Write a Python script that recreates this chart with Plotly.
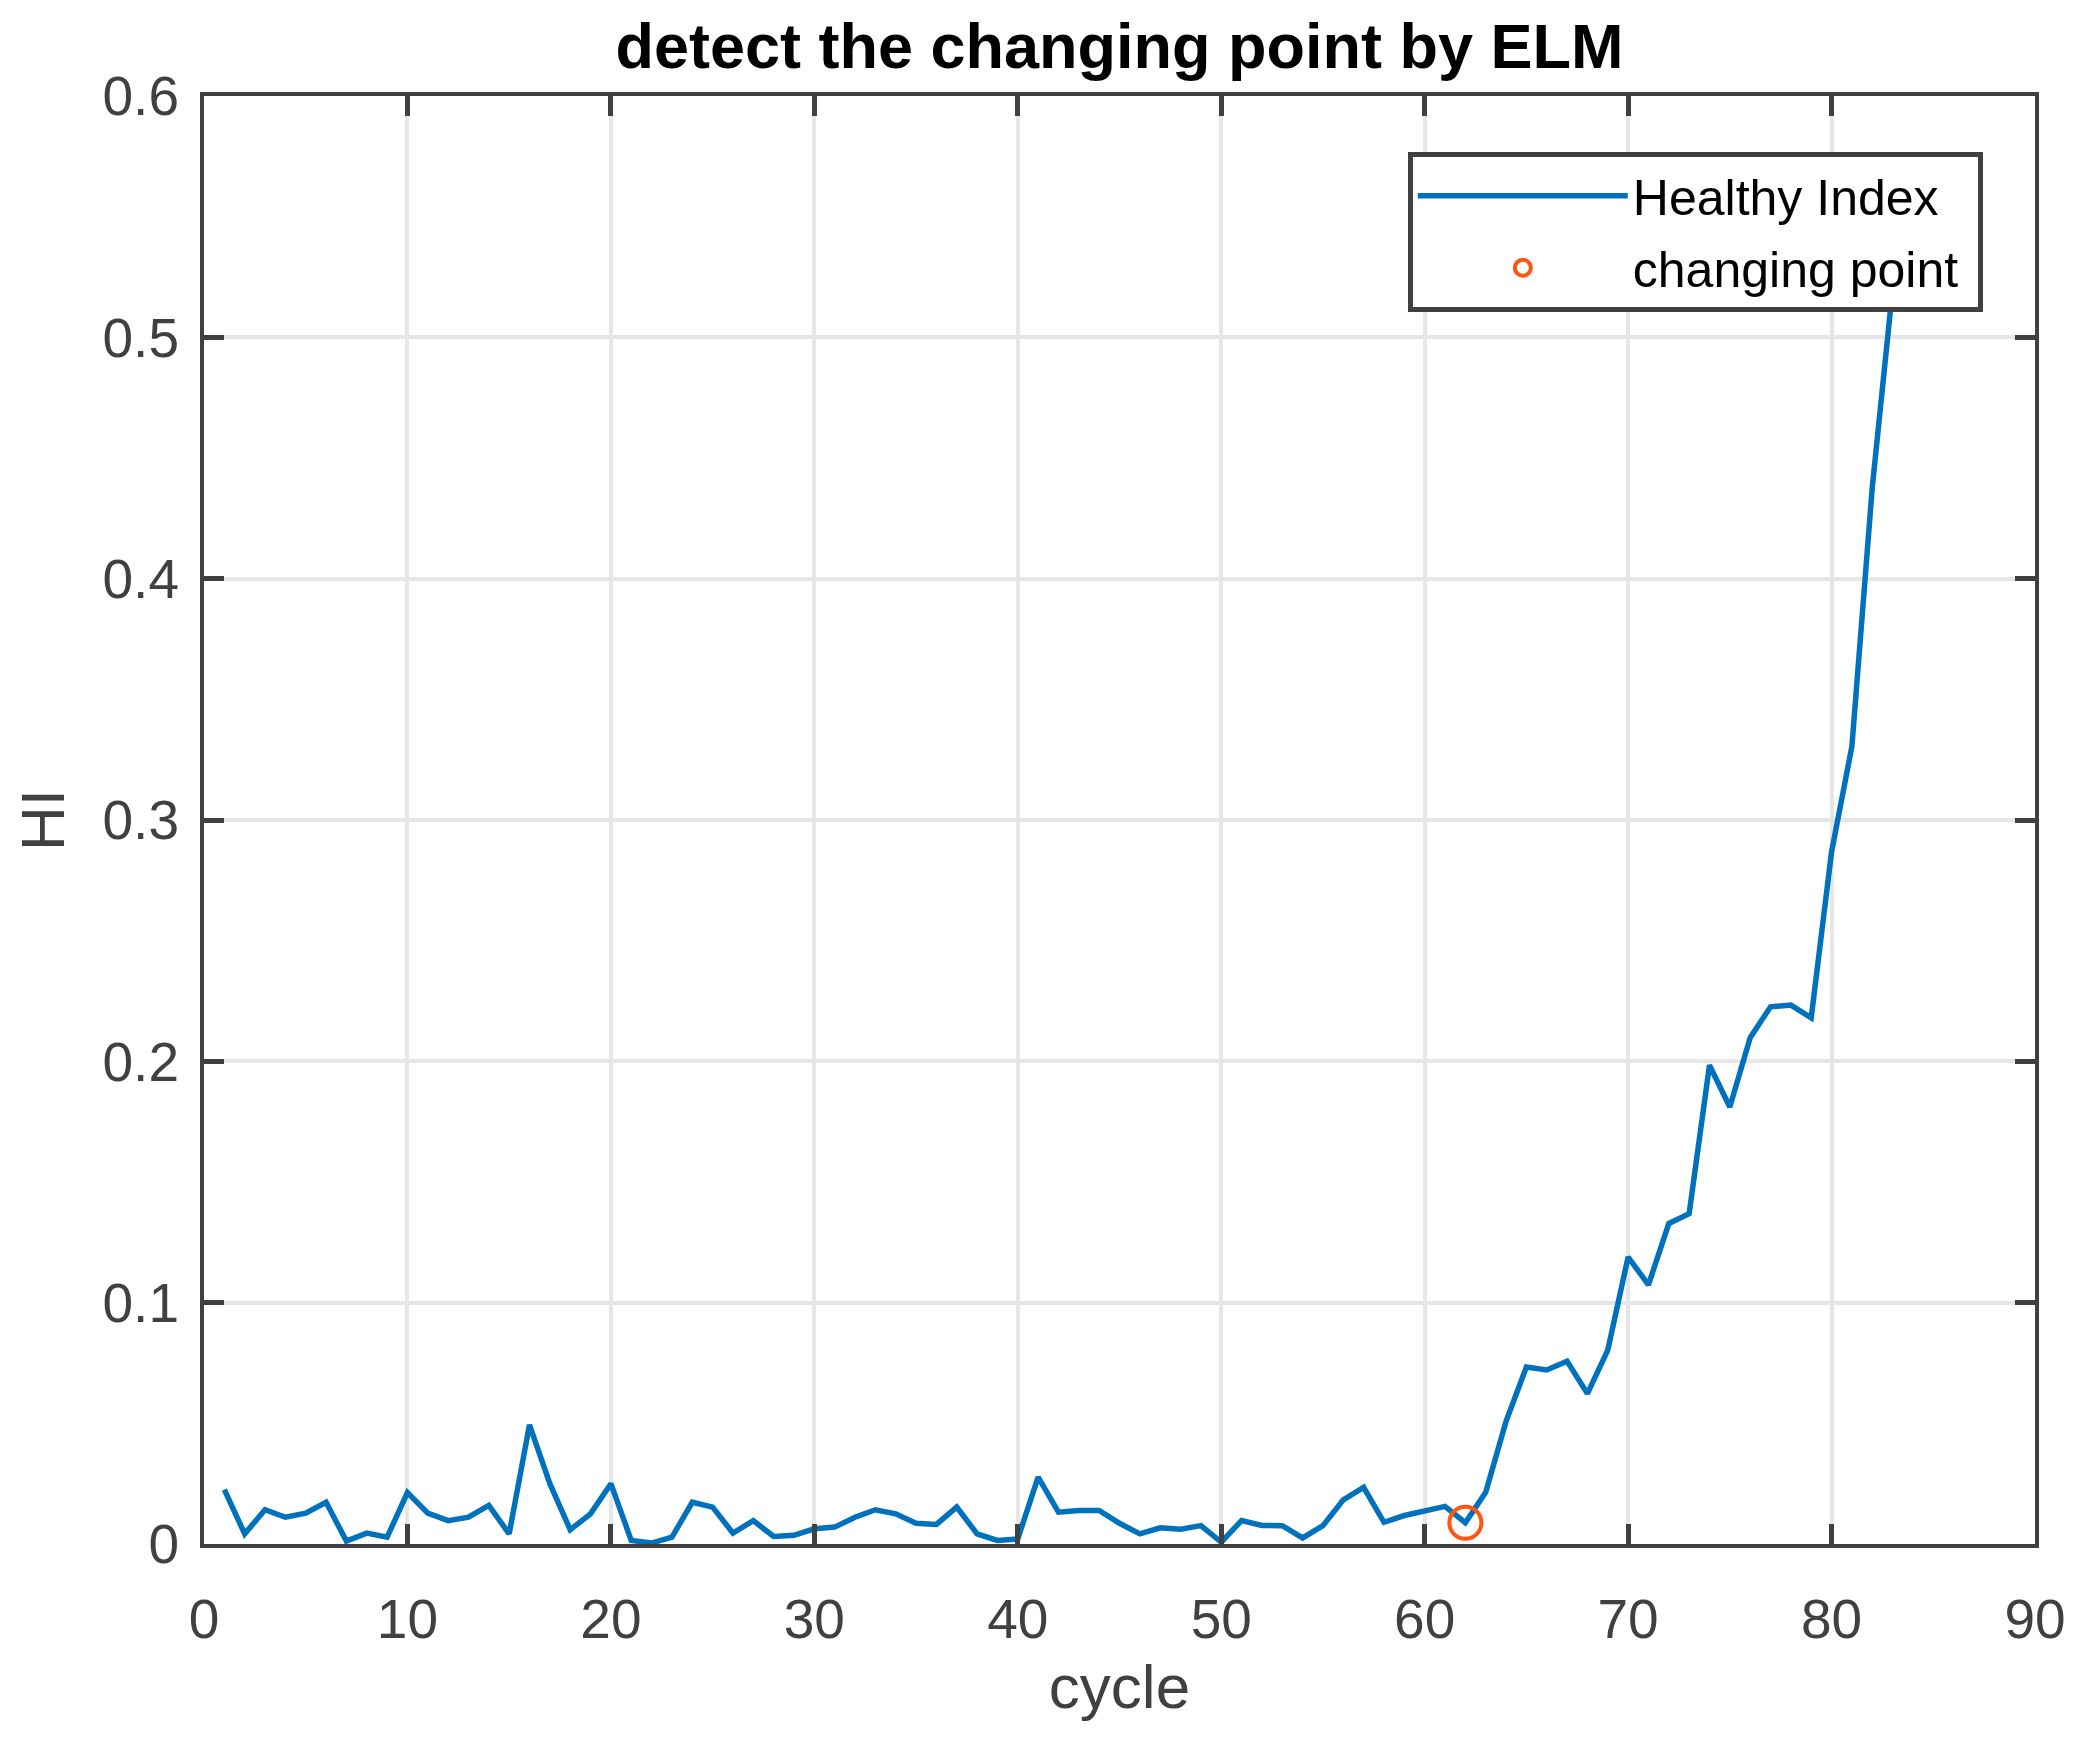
import plotly.graph_objects as go

# ---- data ----
cycle = list(range(1, 84))
hi = [0.0225, 0.0042, 0.0142, 0.0111, 0.0128, 0.0173, 0.0012, 0.0045, 0.0028, 0.0213,
      0.0128, 0.0097, 0.0111, 0.0160, 0.0042, 0.0494, 0.0250, 0.0059, 0.0125, 0.0250,
      0.0015, 0.0004, 0.0028, 0.0173, 0.0153, 0.0045, 0.0097, 0.0031, 0.0036, 0.0063,
      0.0070, 0.0111, 0.0142, 0.0125, 0.0086, 0.0081, 0.0153, 0.0042, 0.0015, 0.0021,
      0.0277, 0.0132, 0.0139, 0.0139, 0.0086, 0.0042, 0.0067, 0.0061, 0.0076, 0.0008,
      0.0097, 0.0077, 0.0076, 0.0025, 0.0076, 0.0183, 0.0235, 0.0090, 0.0118, 0.0139,
      0.0156, 0.0088, 0.0214, 0.0508, 0.0733, 0.0721, 0.0757, 0.0623, 0.0803, 0.1189,
      0.1074, 0.1328, 0.1369, 0.1984, 0.1811, 0.2098, 0.2226, 0.2233, 0.2180, 0.2868,
      0.3305, 0.4377, 0.5200]
change_x = [62]
change_y = [0.0088]

x_ticks = [0, 10, 20, 30, 40, 50, 60, 70, 80, 90]
y_ticks = [0, 0.1, 0.2, 0.3, 0.4, 0.5, 0.6]

FONT = "Liberation Sans, Arial, Helvetica, sans-serif"
AX = "#404040"

fig = go.Figure()
fig.add_trace(go.Scatter(
    x=cycle, y=hi, mode="lines", name="Healthy Index\u00a0",
    line=dict(color="#0072BD", width=5.5), legendgroup="a"))
fig.add_trace(go.Scatter(
    x=change_x, y=change_y, mode="markers", name="changing point\u00a0",
    marker=dict(symbol="circle-open", size=32, color="#FF5511",
                line=dict(width=4, color="#FF5511")), legendgroup="b"))

axis_common = dict(
    showline=True, linecolor=AX, linewidth=4, mirror="ticks",
    ticks="inside", ticklen=20, tickwidth=4.5, tickcolor=AX,
    showgrid=True, gridcolor="#e6e6e6", gridwidth=3.5, zeroline=False,
    tickfont=dict(family=FONT, size=55, color=AX),
)

fig.update_layout(
    width=2090, height=1746,
    margin=dict(l=196, r=63, t=88, b=210),
    paper_bgcolor="white", plot_bgcolor="white",
    font=dict(family=FONT),
    title=dict(text="<b>detect the changing point by ELM</b>",
               font=dict(family=FONT, size=63, color="black"),
               x=0.5, xref="paper", xanchor="center",
               y=1 - 38 / 1746, yref="container", yanchor="middle"),
    xaxis=dict(range=[0, 90], tickvals=x_ticks, ticklabelstandoff=24,
               title=dict(text="cycle", font=dict(family=FONT, size=62, color=AX), standoff=17),
               **axis_common),
    yaxis=dict(range=[0, 0.6], tickvals=y_ticks, ticklabelstandoff=10,
               title=dict(text="HI", font=dict(family=FONT, size=62, color=AX), standoff=36),
               **axis_common),
    legend=dict(x=0.9715, xanchor="right", y=0.9615, yanchor="top",
                bgcolor="white", bordercolor=AX, borderwidth=5,
                font=dict(family=FONT, size=50, color="black"),
                itemwidth=210, tracegroupgap=4, traceorder="grouped"),
    showlegend=True,
)

fig.write_html("out.html")
